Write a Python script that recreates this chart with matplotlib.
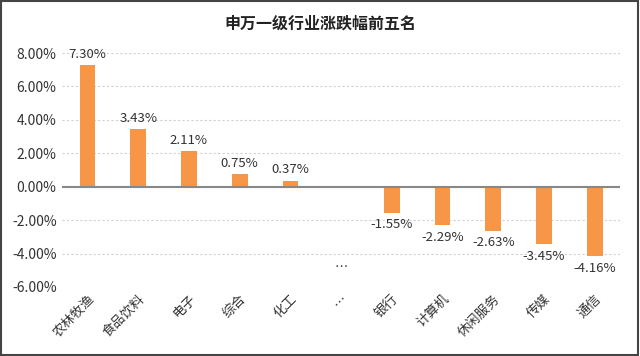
import matplotlib
matplotlib.use("Agg")
import matplotlib.pyplot as plt
from matplotlib.patches import Rectangle

plt.rcParams['font.family'] = ['Noto Sans CJK SC', 'DejaVu Sans']
plt.rcParams['axes.unicode_minus'] = False

title = "申万一级行业涨跌幅前五名"
categories = ["农林牧渔", "食品饮料", "电子", "综合", "化工", "…", "银行", "计算机", "休闲服务", "传媒", "通信"]
values = [7.30, 3.43, 2.11, 0.75, 0.37, None, -1.55, -2.29, -2.63, -3.45, -4.16]
yticks = [-6, -4, -2, 0, 2, 4, 6, 8]
gap_label = "…"

fig = plt.figure(figsize=(6.4, 3.56), dpi=100)
ax = fig.add_axes([0.097, 0.194, 0.872, 0.657])

xs = list(range(len(categories)))
bar_x = [x for x, v in zip(xs, values) if v is not None]
bar_v = [v for v in values if v is not None]
ax.bar(bar_x, bar_v, width=0.31, color="#F79646", zorder=3)

for x, v in zip(bar_x, bar_v):
    if v >= 0:
        ax.annotate(f"{v:.2f}%", (x, v), xytext=(0, 3), textcoords="offset points",
                    ha="center", va="bottom", fontsize=9.5, color="#333333")
    else:
        ax.annotate(f"{v:.2f}%", (x, v), xytext=(0, -4), textcoords="offset points",
                    ha="center", va="top", fontsize=9.5, color="#333333")
for x, v in zip(xs, values):
    if v is None:
        ax.text(x, -4.85, gap_label, ha="center", va="center", fontsize=9.5, color="#333333")

ax.set_xlim(-0.5, len(categories) - 0.5)
ax.set_ylim(-6, 8)
ax.set_yticks(yticks)
ax.set_yticklabels([f"{t:.2f}%" for t in yticks], fontsize=10, color="#333333")
ax.set_xticks(xs)
ax.set_xticklabels(categories, rotation=45, ha="right", rotation_mode="anchor", fontsize=9.5, color="#333333")
ax.tick_params(axis="both", length=0, pad=4)
ax.grid(axis="y", linestyle=(0, (2, 2)), color="#D0D0D0", linewidth=0.8, zorder=0)
for s in ax.spines.values():
    s.set_visible(False)
ax.axhline(0, color="#888888", linewidth=1.5, zorder=4)

fig.text(0.5, 0.935, title, ha="center", va="center", fontsize=11.5, fontweight="bold", color="#222222")
fig.patches.append(Rectangle((0.002, 0.003), 0.995, 0.993, transform=fig.transFigure,
                             fill=False, edgecolor="#444444", linewidth=1.5))

fig.savefig("out.png", dpi=100)
